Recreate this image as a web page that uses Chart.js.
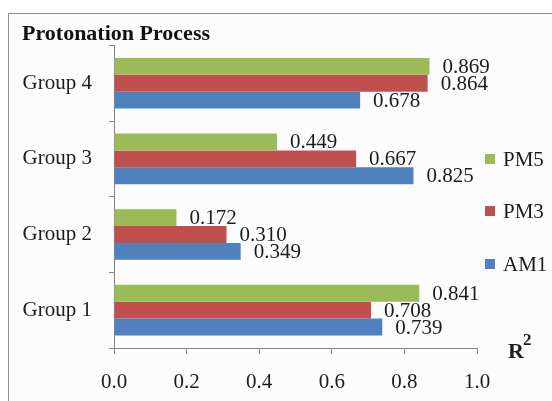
<!DOCTYPE html>
<html>
<head>
<meta charset="utf-8">
<script src="https://cdn.jsdelivr.net/npm/chart.js@4"></script>
<style>
  html, body { margin: 0; background: #fff; overflow: hidden; width: 552px; height: 401px; }
  #frame {
    position: absolute; left: 8px; top: 13px; width: 800px; height: 600px;
    border: 1.5px solid #8f8f8f; background: #fcfcfc;
  }
  #wrap { position: absolute; left: 0; top: 0; width: 552px; height: 401px; }
</style>
</head>
<body>
<div id="frame"></div>
<div id="wrap"><canvas id="chart" width="552" height="401"></canvas></div>
<script>
const groups = ["Group 1", "Group 2", "Group 3", "Group 4"];
const am1 = [0.739, 0.349, 0.825, 0.678];
const pm3 = [0.708, 0.310, 0.667, 0.864];
const pm5 = [0.841, 0.172, 0.449, 0.869];
const xTicks = [0.0, 0.2, 0.4, 0.6, 0.8, 1.0];

const serif = "'Liberation Serif', 'Times New Roman', serif";
const axisGray = "#868686";

// value labels right of each bar
const valueLabels = {
  id: "valueLabels",
  afterDatasetsDraw(chart) {
    const ctx = chart.ctx;
    ctx.save();
    ctx.font = "21px " + serif;
    ctx.fillStyle = "#1c1c1c";
    ctx.textAlign = "left";
    ctx.textBaseline = "middle";
    chart.data.datasets.forEach((ds, i) => {
      chart.getDatasetMeta(i).data.forEach((bar, j) => {
        ctx.fillText(ds.data[j].toFixed(3), bar.x + 13, bar.y + 1);
      });
    });
    ctx.restore();
  }
};

// legend on the right, same order as the bars
const sideLegend = {
  id: "sideLegend",
  afterDraw(chart) {
    const ctx = chart.ctx;
    const rows = [159, 211, 264];
    ctx.save();
    ctx.font = "21px " + serif;
    ctx.textBaseline = "middle";
    chart.data.datasets.forEach((ds, i) => {
      ctx.fillStyle = ds.backgroundColor;
      ctx.fillRect(485, rows[i] - 5, 10, 10);
      ctx.fillStyle = "#1c1c1c";
      ctx.fillText(ds.label, 503, rows[i] + 1);
    });
    // axis title R^2
    ctx.textBaseline = "alphabetic";
    ctx.font = "bold 22px " + serif;
    ctx.fillText("R", 508, 358);
    ctx.font = "bold 17px " + serif;
    ctx.fillText("2", 523, 345);
    ctx.restore();
  }
};

new Chart(document.getElementById("chart"), {
  type: "bar",
  data: {
    labels: groups,
    datasets: [
      { label: "PM5", data: pm5, backgroundColor: "#9bbb59" },
      { label: "PM3", data: pm3, backgroundColor: "#c0504d" },
      { label: "AM1", data: am1, backgroundColor: "#4f81bd" }
    ]
  },
  options: {
    indexAxis: "y",
    responsive: false,
    animation: false,
    categoryPercentage: 0.67,
    barPercentage: 1.0,
    layout: { padding: { left: 22, top: 20, right: 75, bottom: 0 } },
    plugins: {
      legend: { display: false },
      tooltip: { enabled: false },
      title: {
        display: true,
        text: "Protonation Process",
        align: "start",
        color: "#111",
        font: { family: serif, size: 22, weight: "bold", lineHeight: 1.2 },
        padding: { top: 1, bottom: -2 }
      }
    },
    scales: {
      x: {
        min: 0,
        max: 1,
        afterBuildTicks: (s) => { s.ticks = xTicks.map(v => ({ value: v })); },
        afterFit: (s) => { s.height = 53; },
        grid: { drawOnChartArea: false, tickLength: 6, color: axisGray },
        border: { color: axisGray, width: 1 },
        ticks: {
          padding: 16,
          color: "#1c1c1c",
          font: { family: serif, size: 21 },
          callback: (v) => Number(v).toFixed(1)
        }
      },
      y: {
        reverse: true,
        afterFit: (s) => { s.width = 92; },
        grid: { drawOnChartArea: false, tickLength: 5, color: axisGray, offset: true },
        border: { color: axisGray, width: 1 },
        ticks: { padding: 17, color: "#1c1c1c", font: { family: serif, size: 21 } }
      }
    }
  },
  plugins: [valueLabels, sideLegend]
});
</script>
</body>
</html>
